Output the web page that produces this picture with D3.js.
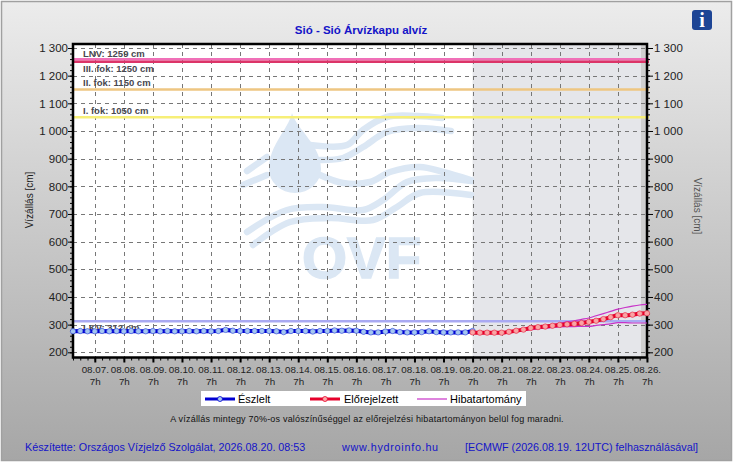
<!DOCTYPE html>
<html>
<head>
<meta charset="utf-8">
<script src="https://cdnjs.cloudflare.com/ajax/libs/d3/7.8.5/d3.min.js"></script>
<style>
    html, body { margin: 0; padding: 0; background: #fff; }
    svg { display: block; font-family: "Liberation Sans", Arial, sans-serif; }
    .axis path { display: none; }
    .axis line { stroke: #000; }
</style>
</head>
<body>
<svg id="chart" width="735" height="463"></svg>
<script>
// every 6 hours, from 08.06. 13h
var observed = [276, 277, 276, 276, 277, 276, 277, 276, 277, 276, 276, 277, 276, 277, 276, 276,
    277, 276, 277, 276, 277, 281, 278, 277, 277, 277, 277, 277, 276, 273, 277, 277,
    277, 275, 277, 277, 279, 278, 279, 278, 274, 272, 272, 275, 277, 273, 272, 272,
    273, 276, 273, 272, 272, 272, 272, 277];
// every 6 hours, from 08.20. 7h
var forecast = [272, 271, 271, 271, 271, 274, 278, 282, 288, 291, 293, 296, 299,
    301, 303, 306, 310, 314, 320, 327, 334, 334, 336, 340, 341];
var errorUpper = [272, 271, 271, 271, 272, 275, 279, 284, 290, 293, 296, 300, 304,
    310, 314, 319, 324, 332, 340, 348, 356, 362, 367, 371, 373];
var errorLower = [272, 271, 271, 271, 270, 272, 275, 278, 282, 285, 287, 290, 292,
    293, 293, 294, 294, 297, 300, 303, 307, 307, 306, 306, 306];

var levelNames = ["LNV: 1259 cm", "III. fok: 1250 cm", "II. fok: 1150 cm", "I. fok: 1050 cm", "LKV: 312 cm"];
var levelValues = [1259, 1250, 1150, 1050, 312];
var levelColors = ["#f070b8", "#dc3468", "#eec682", "#f7ef78", "#a9a9f2"];
var levelLabelValues = [1278, 1224, 1171, 1072, 286];

var dayLabels = ["08.07.", "08.08.", "08.09.", "08.10.", "08.11.", "08.12.", "08.13.", "08.14.", "08.15.", "08.16.",
    "08.17.", "08.18.", "08.19.", "08.20.", "08.21.", "08.22.", "08.23.", "08.24.", "08.25.", "08.26."];

var BLUE = "#0000d2", RED = "#e6002a", PURPLE = "#c832c8", TEXT_BLUE = "#1414c8";

var svg = d3.select("#chart");
var margin = {left: 73, right: 647, top: 44, bottom: 357.5};

var defs = svg.append("defs");
var bgGrad = defs.append("linearGradient").attr("id", "bg").attr("x1", 0).attr("x2", 0).attr("y1", 0).attr("y2", 1);
bgGrad.append("stop").attr("offset", "0%").attr("stop-color", "#ececec");
bgGrad.append("stop").attr("offset", "100%").attr("stop-color", "#a6a6a6");

svg.append("rect").attr("x", 1.5).attr("y", 1.5).attr("width", 730).attr("height", 459)
    .attr("fill", "url(#bg)").attr("stroke", "#a0a0a0").attr("stroke-width", 1.5);

// day 0 is 08.07. 7h
var x = d3.scaleLinear().domain([-0.75, 19]).range([margin.left, 95 + 19 * 29.05]);
var y = d3.scaleLinear().domain([200, 1300]).range([352.3, 48]);

function obsX(i) { return x(-0.75 + i / 4); }
function fcX(i) { return x(13 + i / 4); }

svg.append("rect").attr("x", margin.left).attr("y", margin.top)
    .attr("width", margin.right - margin.left).attr("height", margin.bottom - margin.top).attr("fill", "#fff");
svg.append("rect").attr("x", x(13)).attr("y", margin.top)
    .attr("width", margin.right - x(13)).attr("height", margin.bottom - margin.top).attr("fill", "#e5e6ea");
svg.append("rect").attr("x", 641).attr("y", margin.top)
    .attr("width", margin.right - 641).attr("height", margin.bottom - margin.top).attr("fill", "#cfcfcf");

// OVF watermark
var logo = svg.append("g").attr("fill", "none").attr("stroke", "#dbe7f4").attr("stroke-width", 6.5).attr("stroke-linecap", "round");
var curve = d3.line().curve(d3.curveCatmullRom);
[
    [[310, 145], [347, 145], [363, 130], [387, 117], [417, 116], [442, 118]],
    [[320, 160], [343, 158], [363, 147], [387, 132], [417, 128], [451, 131]],
    [[247, 171], [267, 157]],
    [[243, 185], [267, 175]],
    [[320, 175], [343, 183], [370, 182], [390, 172], [420, 167], [443, 172], [471, 180]],
    [[247, 232], [287, 210], [323, 207], [363, 210], [383, 200], [407, 182], [437, 178], [471, 181]],
    [[253, 245], [290, 222], [330, 218], [373, 220], [397, 207], [420, 193], [471, 195]]
].forEach(function (pts) {
    logo.append("path").attr("d", curve(pts));
});
svg.append("path")
    .attr("d", "M292 113 C288 130 269 145 269 169 A26 24 0 0 0 321 169 C321 145 297 130 292 113 Z")
    .attr("fill", "#dbe7f4");
svg.append("text").attr("x", 302).attr("y", 278).attr("font-size", 58).attr("font-weight", "bold")
    .attr("fill", "#dbe7f4").attr("stroke", "#dbe7f4").attr("stroke-width", 1.5).text("OVF");

// grid
var yMajor = d3.range(200, 1301, 100), yMinor = d3.range(200, 1301, 20);
var xMajor = d3.range(0, 20), xMinor = d3.range(-0.75, 19.01, 0.25);

svg.append("g").selectAll("line").data(yMajor).enter().append("line")
    .attr("x1", margin.left).attr("x2", margin.right)
    .attr("y1", function (d) { return Math.round(y(d)) + 0.5; }).attr("y2", function (d) { return Math.round(y(d)) + 0.5; })
    .attr("stroke", "#777").attr("stroke-dasharray", "4,4");
svg.append("g").selectAll("line").data(xMajor).enter().append("line")
    .attr("y1", margin.top).attr("y2", margin.bottom)
    .attr("x1", function (d) { return Math.round(x(d)) + 0.5; }).attr("x2", function (d) { return Math.round(x(d)) + 0.5; })
    .attr("stroke", "#777").attr("stroke-dasharray", "4,4");

// level lines
svg.append("g").selectAll("line").data(levelValues).enter().append("line")
    .attr("x1", margin.left).attr("x2", 649)
    .attr("y1", function (d) { return y(d); }).attr("y2", function (d) { return y(d); })
    .attr("stroke", function (d, i) { return levelColors[i]; })
    .attr("stroke-width", 2.5);
svg.append("g").selectAll("text").data(levelNames).enter().append("text")
    .attr("x", 83).attr("y", function (d, i) { return y(levelLabelValues[i]); })
    .attr("font-size", 9.5).attr("font-weight", "bold").attr("fill", "#48484f")
    .attr("dominant-baseline", "middle").text(function (d) { return d; });

// frame and axes
svg.append("rect").attr("x", margin.left).attr("y", margin.top)
    .attr("width", margin.right - margin.left).attr("height", margin.bottom - margin.top)
    .attr("fill", "none").attr("stroke", "#000").attr("stroke-width", 2.5);

function yFormat(d) { return d >= 1000 ? d3.format("d")(Math.floor(d / 1000)) + " " + d3.format("03d")(d % 1000) : d; }

svg.append("g").attr("class", "axis").attr("transform", "translate(" + margin.left + ",0)")
    .call(d3.axisLeft(y).tickValues(yMinor).tickSize(3).tickFormat(""));
svg.append("g").attr("class", "axis").attr("transform", "translate(" + margin.right + ",0)")
    .call(d3.axisRight(y).tickValues(yMinor).tickSize(3).tickFormat(""));
var yLeft = svg.append("g").attr("class", "axis").attr("transform", "translate(" + margin.left + ",0)")
    .call(d3.axisLeft(y).tickValues(yMajor).tickSize(5).tickPadding(0).tickFormat(yFormat));
var yRight = svg.append("g").attr("class", "axis").attr("transform", "translate(" + margin.right + ",0)")
    .call(d3.axisRight(y).tickValues(yMajor).tickSize(6).tickPadding(1).tickFormat(yFormat));
[yLeft, yRight].forEach(function (a) {
    a.selectAll("text").attr("font-size", 11.5).attr("font-family", "Liberation Sans").attr("fill", "#222");
});

svg.append("g").attr("class", "axis").attr("transform", "translate(0," + margin.bottom + ")")
    .call(d3.axisBottom(x).tickValues(xMinor).tickSize(3).tickFormat(""));
var xAxis = svg.append("g").attr("class", "axis").attr("transform", "translate(0," + margin.bottom + ")")
    .call(d3.axisBottom(x).tickValues(xMajor).tickSize(5).tickFormat(function (d) { return dayLabels[d]; }));
xAxis.selectAll("line").attr("stroke-width", 2);
xAxis.selectAll("text").attr("y", 9).attr("font-size", 9.8).attr("font-family", "Liberation Sans").attr("fill", "#222");
xAxis.selectAll(".tick").append("text").attr("y", 21).attr("dy", "0.71em").attr("fill", "#222")
    .attr("font-size", 9.8).attr("font-family", "Liberation Sans").attr("text-anchor", "middle").text("7h");

svg.append("text").attr("transform", "translate(33,200) rotate(-90)").attr("text-anchor", "middle")
    .attr("font-size", 10).attr("fill", "#222").text("Vízállás [cm]");
svg.append("text").attr("transform", "translate(694,206) rotate(90)").attr("text-anchor", "middle")
    .attr("font-size", 10).attr("fill", "#555").text("Vízállás [cm]");

// series
var lineObs = d3.line().x(function (d, i) { return obsX(i); }).y(function (d) { return y(d); });
var lineFc = d3.line().x(function (d, i) { return fcX(i); }).y(function (d) { return y(d); }).curve(d3.curveMonotoneX);

[errorUpper, errorLower].forEach(function (s) {
    svg.append("path").attr("d", lineFc(s)).attr("fill", "none").attr("stroke", PURPLE).attr("stroke-width", 1.2);
});
svg.append("path").attr("d", lineObs(observed)).attr("fill", "none").attr("stroke", BLUE).attr("stroke-width", 4);
svg.append("g").selectAll("circle").data(observed).enter().append("circle")
    .attr("cx", function (d, i) { return obsX(i); }).attr("cy", function (d) { return y(d); })
    .attr("r", 2.7).attr("fill", "#a4c6f0").attr("stroke", "#2a40d8").attr("stroke-width", 0.6);
svg.append("path").attr("d", lineFc(forecast)).attr("fill", "none").attr("stroke", RED).attr("stroke-width", 4);
svg.append("g").selectAll("circle").data(forecast).enter().append("circle")
    .attr("cx", function (d, i) { return fcX(i); }).attr("cy", function (d) { return y(d); })
    .attr("r", 2.7).attr("fill", "#f9a4a4").attr("stroke", "#e62040").attr("stroke-width", 0.6);

// title
svg.append("text").attr("x", 361).attr("y", 34).attr("text-anchor", "middle")
    .attr("font-size", 11.5).attr("font-weight", "bold").attr("fill", TEXT_BLUE).text("Sió - Sió Árvízkapu alvíz");

// info button
svg.append("rect").attr("x", 692).attr("y", 10).attr("width", 20).attr("height", 20).attr("rx", 3).attr("fill", "#1d4595");
svg.append("text").attr("x", 702).attr("y", 27).attr("text-anchor", "middle")
    .attr("font-family", "Liberation Serif").attr("font-weight", "bold").attr("font-size", 20).attr("fill", "#fff").text("i");

// legend
svg.append("rect").attr("x", 201).attr("y", 391).attr("width", 325).attr("height", 15).attr("fill", "#fff");
var legendNames = ["Észlelt", "Előrejelzett", "Hibatartomány"];
var legendLineX = [205, 310, 417];
var legendTextX = [238, 344, 450];
var legendColors = [BLUE, RED, PURPLE];
var legendFills = ["#a8c8f0", "#fca8a8", null];
legendNames.forEach(function (name, i) {
    svg.append("line").attr("x1", legendLineX[i]).attr("x2", legendLineX[i] + 30).attr("y1", 399).attr("y2", 399)
        .attr("stroke", legendColors[i]).attr("stroke-width", i < 2 ? 3 : 1.2);
    if (legendFills[i]) {
        svg.append("circle").attr("cx", legendLineX[i] + 15).attr("cy", 399).attr("r", 2.5)
            .attr("fill", legendFills[i]).attr("stroke", legendColors[i]).attr("stroke-width", 0.8);
    }
    svg.append("text").attr("x", legendTextX[i]).attr("y", 403).attr("font-size", 11).attr("fill", "#000").text(name);
});

svg.append("text").attr("x", 367).attr("y", 422).attr("text-anchor", "middle").attr("font-size", 9)
    .attr("letter-spacing", 0.2).attr("fill", "#111")
    .text("A vízállás mintegy 70%-os valószínűséggel az előrejelzési hibatartományon belül fog maradni.");

// footer
var footerTexts = ["Készítette: Országos Vízjelző Szolgálat, 2026.08.20. 08:53", "www.hydroinfo.hu", "[ECMWF (2026.08.19. 12UTC) felhasználásával]"];
var footerX = [25, 342, 465];
var footerSpacing = [0, 0.75, 0];
svg.append("g").selectAll("text").data(footerTexts).enter().append("text")
    .attr("x", function (d, i) { return footerX[i]; }).attr("y", 451)
    .attr("letter-spacing", function (d, i) { return footerSpacing[i]; })
    .attr("font-size", 10.75).attr("fill", TEXT_BLUE).text(function (d) { return d; });
</script>
</body>
</html>
